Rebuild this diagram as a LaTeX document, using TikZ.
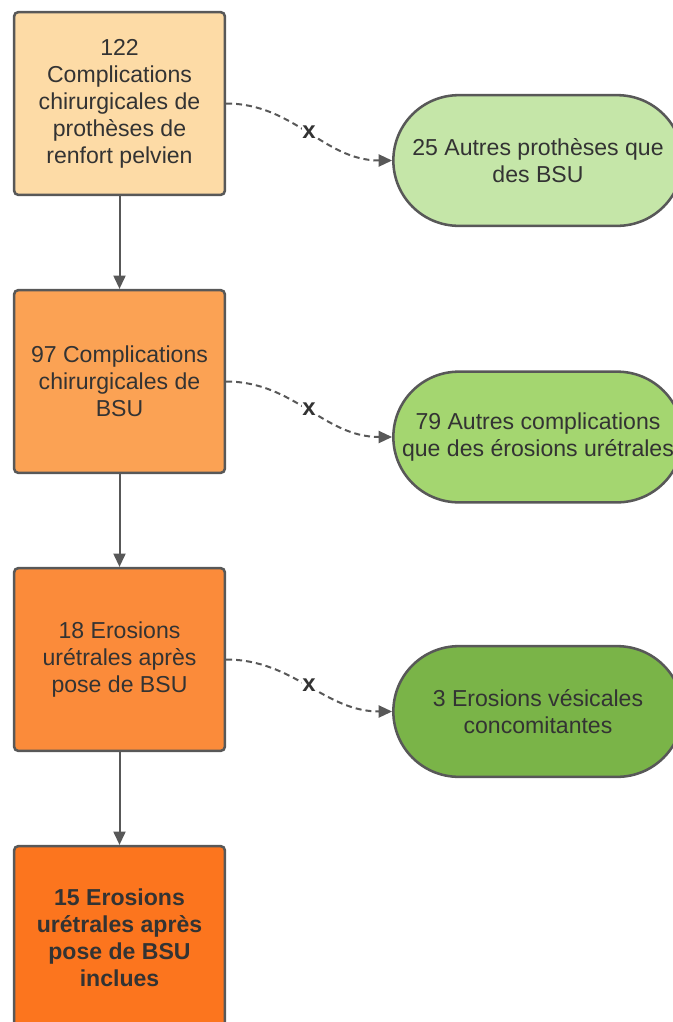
\documentclass[tikz,border=0pt]{standalone}
\usepackage{fontspec}
\setmainfont{Liberation Sans}
\usetikzlibrary{calc,arrows.meta}

\definecolor{edge}{RGB}{88,88,88}
\definecolor{txt}{RGB}{51,51,51}
\definecolor{peach}{RGB}{253,219,166}
\definecolor{orangeA}{RGB}{251,162,84}
\definecolor{orangeB}{RGB}{251,139,58}
\definecolor{orangeC}{RGB}{252,117,30}
\definecolor{greenA}{RGB}{197,230,168}
\definecolor{greenB}{RGB}{164,214,112}
\definecolor{greenC}{RGB}{122,180,72}

\begin{document}
\begin{tikzpicture}[x=0.75pt,y=-0.75pt,
    box/.style={draw=edge, line width=1.9pt, rounded corners=3pt,
        minimum width=158pt, minimum height=137pt, align=center,
        text=txt, font=\fontsize{17.3}{20.2}\selectfont},
    pill/.style={draw=edge, line width=1.9pt, rounded corners=49pt,
        minimum width=217pt, minimum height=98pt, align=center,
        text=txt, font=\fontsize{17.3}{20.2}\selectfont},
    flow/.style={draw=edge, line width=1.5pt,
        -{Triangle[length=10pt,width=9pt]}},
    skip/.style={flow, dash pattern=on 4.5pt off 3pt},
    cross/.style={fill=white, inner sep=0.3pt, text=txt,
        font=\fontsize{18}{18}\selectfont\bfseries}]

        \useasboundingbox (0,0) rectangle (673,1022);

        % Main column
        \node (Total) at (119.5,103.5) [box, fill=peach]
            {122\\Complications\\chirurgicales de\\prothèses de\\renfort pelvien};

        \node (BSU) at ($(Total) + (0,278)$) [box, fill=orangeA]
            {97 Complications\\chirurgicales de\\BSU};

        \node (Erosions) at ($(BSU) + (0,278)$) [box, fill=orangeB]
            {18 Erosions\\urétrales après\\pose de BSU};

        \node (Inclus) at ($(Erosions) + (0,278)$) [box, fill=orangeC, font=\fontsize{17.3}{20.2}\selectfont\bfseries]
            {15 Erosions\\urétrales après\\pose de BSU\\inclues};

        % Exclusions
        \node (Autres) at ($(Total) + (418.5,57)$) [pill, fill=greenA]
            {25 Autres prothèses que\\des BSU};

        \node (AutresCompl) at ($(BSU) + (418.5,55.5)$) [pill, fill=greenB]
            {79 Autres complications\\que des érosions urétrales};

        \node (Vesicales) at ($(Erosions) + (418.5,52)$) [pill, fill=greenC]
            {3 Erosions vésicales\\concomitantes};

        % Connectors
        \draw [flow] (Total) -- (BSU);
        \draw [flow] (BSU) -- (Erosions);
        \draw [flow] (Erosions) -- (Inclus);

        \draw [skip] (Total.east) to[out=0, in=180] node[cross] {x} (Autres.west);
        \draw [skip] (BSU.east) to[out=0, in=180] node[cross] {x} (AutresCompl.west);
        \draw [skip] (Erosions.east) to[out=0, in=180] node[cross] {x} (Vesicales.west);

    \end{tikzpicture}
\end{document}
